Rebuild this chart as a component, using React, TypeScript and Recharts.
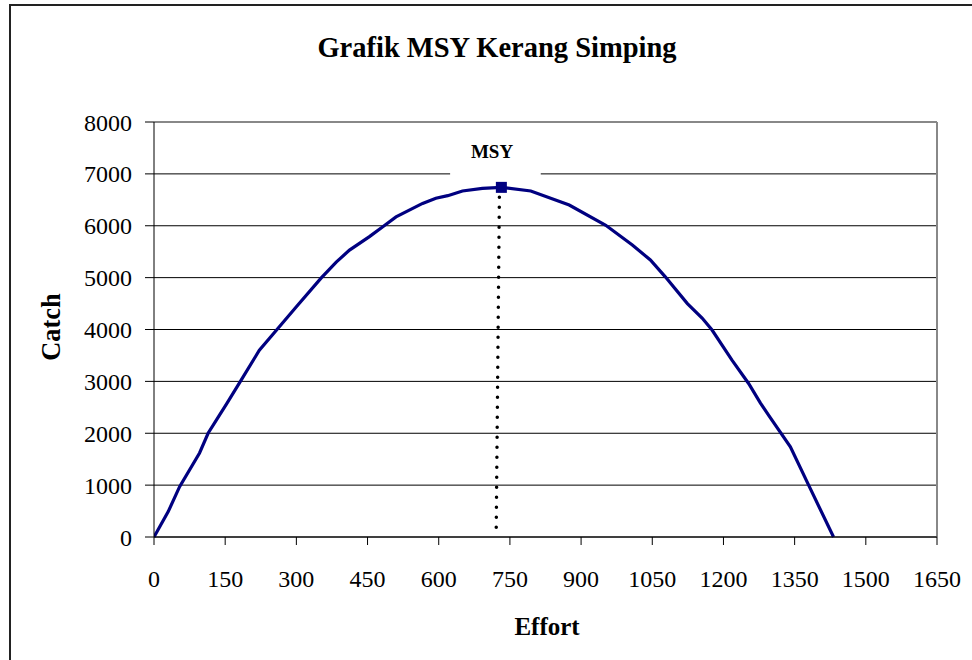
import React from 'react';
import { LineChart, Line, XAxis, YAxis, CartesianGrid, ReferenceLine, ReferenceArea, ReferenceDot } from 'recharts';

// values
const efforts = [0, 30, 54, 96, 114, 138, 152, 184, 222, 261, 300, 352, 384, 412, 454, 485, 510, 566, 594, 619, 650, 692, 732, 794, 875, 952, 1008, 1046, 1077, 1124, 1155, 1176, 1218, 1253, 1278, 1295, 1341, 1380, 1432];
const catches = [0, 490, 970, 1620, 2000, 2350, 2550, 3030, 3600, 4020, 4440, 4990, 5300, 5530, 5790, 6000, 6170, 6430, 6530, 6580, 6670, 6720, 6740, 6670, 6400, 6010, 5630, 5340, 5020, 4500, 4220, 3990, 3410, 2960, 2580, 2350, 1740, 990, 0];
const xTicks = [0, 150, 300, 450, 600, 750, 900, 1050, 1200, 1350, 1500, 1650];
const yTicks = [0, 1000, 2000, 3000, 4000, 5000, 6000, 7000, 8000];
const msyEffort = 732;
const msyCatch = 6740;
const msyDropEfforts = [728, 721];
const msyDropCatches = [6740, 0];

const curve = efforts.map((e, i) => ({ effort: e, catch: catches[i] }));
const drop = msyDropEfforts.map((e, i) => ({ effort: e, catch: msyDropCatches[i] }));

const serif = '"Liberation Serif", "Times New Roman", serif';

const Square = (props: any) => {
  const { cx, cy } = props;
  return <rect x={cx - 5.5} y={cy - 5.5} width={11} height={11} fill="#000080" />;
};

export default function App() {
  return (
    <div style={{ position: 'absolute', left: 0, top: 0, width: 972, height: 660, overflow: 'hidden', background: '#fff' }}>
      <LineChart width={972} height={660} margin={{ top: 122, right: 35, bottom: 63, left: 94 }}>
        <CartesianGrid vertical={false} stroke="#000" strokeWidth={1} horizontalValues={yTicks} />
        <XAxis
          dataKey="effort"
          type="number"
          domain={[0, 1650]}
          ticks={xTicks}
          height={60}
          tickSize={8}
          tickMargin={25}
          axisLine={{ stroke: '#000' }}
          tickLine={{ stroke: '#000' }}
          tick={{ fill: '#000', fontSize: 24, fontFamily: serif }}
          allowDataOverflow
        />
        <YAxis
          type="number"
          domain={[0, 8000]}
          ticks={yTicks}
          width={60}
          tickSize={9}
          tickMargin={13}
          axisLine={{ stroke: '#000' }}
          tickLine={{ stroke: '#000' }}
          tick={{ fill: '#000', fontSize: 24, fontFamily: serif }}
        />
        <ReferenceLine y={8000} stroke="#888" strokeWidth={2} />
        <ReferenceLine x={1650} stroke="#888" strokeWidth={2} />
        <ReferenceArea x1={624} x2={815} y1={6930} y2={7660} fill="#fff" fillOpacity={1} stroke="none" />
        <Line
          data={drop}
          dataKey="catch"
          stroke="#000"
          strokeWidth={3.5}
          strokeDasharray="0 10"
          strokeLinecap="round"
          dot={false}
          isAnimationActive={false}
        />
        <Line
          data={curve}
          dataKey="catch"
          type="linear"
          stroke="#000080"
          strokeWidth={3.2}
          dot={false}
          isAnimationActive={false}
        />
        <ReferenceDot x={msyEffort} y={msyCatch} shape={Square} />
      </LineChart>
      <svg width={972} height={660} style={{ position: 'absolute', left: 0, top: 0, pointerEvents: 'none' }}>
        <rect x={10} y={5} width={1000} height={700} fill="none" stroke="#222" strokeWidth={2} />
        <text x={497} y={57} textAnchor="middle" fontFamily={serif} fontWeight="bold" fontSize={28.5} fill="#000">
          Grafik MSY Kerang Simping
        </text>
        <text x={492} y={158} textAnchor="middle" fontFamily={serif} fontWeight="bold" fontSize={19} fill="#000">
          MSY
        </text>
        <text x={547} y={635} textAnchor="middle" fontFamily={serif} fontWeight="bold" fontSize={25} fill="#000">
          Effort
        </text>
        <text x={0} y={0} transform="translate(60 327) rotate(-90)" textAnchor="middle" fontFamily={serif} fontWeight="bold" fontSize={26.5} fill="#000">
          Catch
        </text>
      </svg>
    </div>
  );
}
